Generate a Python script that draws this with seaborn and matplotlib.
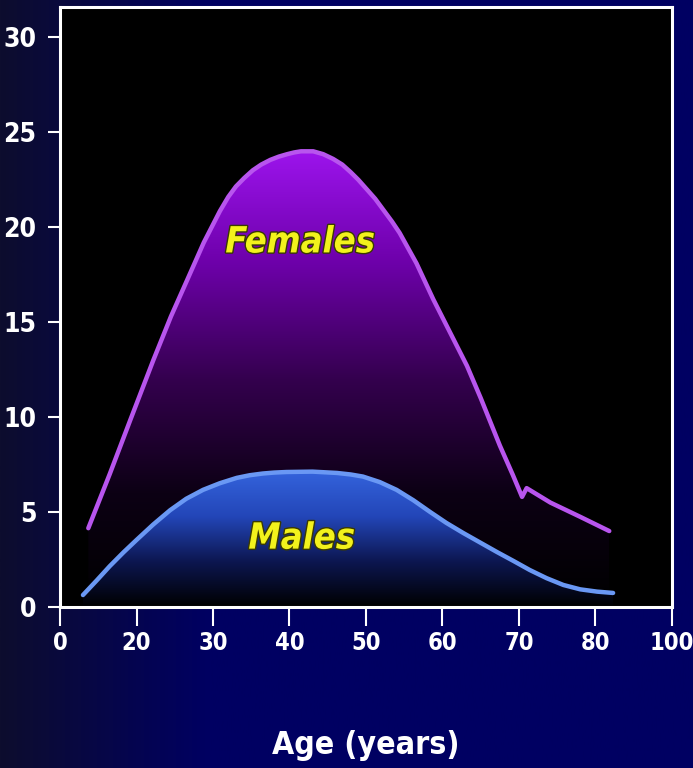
import numpy as np
import pandas as pd
import seaborn as sns
import matplotlib.pyplot as plt
import matplotlib.patheffects as pe
from matplotlib.colors import LinearSegmentedColormap

## datos
edad_mujeres = [13.7, 16.5, 19.2, 22.2, 24.5, 26.6, 28.8, 30.9, 32.0, 33.0, 34.1, 35.2, 36.3,
                37.5, 38.6, 39.7, 40.6, 41.5, 43.1, 44.4, 45.7, 46.9, 48.0, 49.0, 50.1, 51.2,
                52.3, 53.4, 54.4, 55.5, 56.6, 57.7, 58.8, 61.0, 63.2, 65.0, 66.6, 67.5, 69.2,
                70.4, 71.0, 74.1, 78.0, 81.8]
valor_mujeres = [4.15, 7.0, 9.86, 13.0, 15.3, 17.2, 19.2, 20.85, 21.6, 22.15, 22.6, 23.0, 23.3,
                 23.55, 23.72, 23.85, 23.94, 24.0, 24.0, 23.85, 23.6, 23.3, 22.9, 22.5, 22.0, 21.5,
                 20.9, 20.3, 19.7, 18.9, 18.1, 17.15, 16.2, 14.45, 12.7, 11.0, 9.4, 8.5, 6.95,
                 5.8, 6.26, 5.5, 4.75, 4.0]

edad_hombres = [13.0, 14.8, 16.5, 18.3, 20.0, 22.2, 24.4, 26.5, 28.7, 30.9, 33.1, 34.8, 36.5,
                38.0, 39.6, 43.0, 46.2, 48.0, 49.6, 51.8, 54.0, 56.2, 58.4, 60.5, 62.7, 64.9,
                67.1, 69.3, 71.4, 73.6, 75.8, 78.0, 80.2, 82.3]
valor_hombres = [0.63, 1.4, 2.15, 2.88, 3.53, 4.35, 5.1, 5.7, 6.17, 6.52, 6.8, 6.94, 7.03,
                 7.08, 7.11, 7.13, 7.06, 6.98, 6.87, 6.58, 6.17, 5.62, 5.0, 4.43, 3.9, 3.4,
                 2.9, 2.42, 1.95, 1.52, 1.16, 0.93, 0.81, 0.74]

ticks_x = [10, 20, 30, 40, 50, 60, 70, 80, 90]
etiquetas_x = ['0', '20', '30', '40', '50', '60', '70', '80', '100']
ticks_y = [0, 5, 10, 15, 20, 25, 30]

df_m = pd.DataFrame({'edad': edad_mujeres, 'valor': valor_mujeres})
df_h = pd.DataFrame({'edad': edad_hombres, 'valor': valor_hombres})

plt.rcParams['font.family'] = ['DejaVu Sans']
plt.rcParams['font.stretch'] = 'condensed'

fig = plt.figure(figsize=(6.93, 7.68), dpi=100)
fig.patch.set_facecolor('#00005e')

## fondo degradado de la figura
fondo = fig.add_axes([0, 0, 1, 1], zorder=-10)
grad = np.linspace(0, 1, 256)
grad = np.clip(grad / 0.3, 0, 1)[None, :]
cmap_fondo = LinearSegmentedColormap.from_list('fondo', ['#0d0d2e', '#000062'])
fondo.imshow(grad, aspect='auto', cmap=cmap_fondo, extent=[0, 1, 0, 1])
fondo.axis('off')

ax = fig.add_axes([60 / 693, 1 - 607 / 768, 612 / 693, 600 / 768])
ax.set_facecolor('black')


def relleno(ax, df, colores, z):
    poly = ax.fill_between(df['edad'], df['valor'], 0, color='none', lw=0)
    cmap = LinearSegmentedColormap.from_list('g', colores)
    top = df['valor'].max()
    g = np.linspace(0, 1, 256)[:, None]
    im = ax.imshow(g, aspect='auto', cmap=cmap, origin='lower',
                   extent=[df['edad'].min(), df['edad'].max(), 0, top], zorder=z)
    im.set_clip_path(poly.get_paths()[0], transform=ax.transData)


relleno(ax, df_m, ['#000000', '#0c0014', '#34004e', '#6c00a8', '#9c14ec'], 1)
relleno(ax, df_h, ['#000000', '#0c1650', '#2346b8', '#3463dc'], 2)

## lineas
sns.lineplot(data=df_m, x='edad', y='valor', ax=ax, color='#b855ee', lw=3.2, sort=False,
             zorder=4, solid_capstyle='round', solid_joinstyle='round')
sns.lineplot(data=df_h, x='edad', y='valor', ax=ax, color='#6a98f4', lw=3.2, sort=False,
             zorder=4, solid_capstyle='round', solid_joinstyle='round')

efecto = [pe.withStroke(linewidth=2, foreground='#3a3a00')]
ax.text(41.4, 19.2, 'Females', color='#f2f21c', fontsize=26, fontweight='bold',
        fontstyle='italic', ha='center', va='center', zorder=6, path_effects=efecto)
ax.text(41.6, 3.6, 'Males', color='#f2f21c', fontsize=26, fontweight='bold',
        fontstyle='italic', ha='center', va='center', zorder=6, path_effects=efecto)

ax.set_xlim(10, 90)
ax.set_ylim(0, 31.6)
ax.set_xticks(ticks_x)
ax.set_xticklabels(etiquetas_x)
ax.set_yticks(ticks_y)
ax.tick_params(axis='x', colors='white', length=14, width=1.5, pad=3, labelsize=17)
ax.tick_params(axis='y', colors='white', length=9, width=1.5, pad=8, labelsize=19)
for lab in ax.get_xticklabels() + ax.get_yticklabels():
    lab.set_fontweight('bold')
for s in ax.spines.values():
    s.set_color('white')
    s.set_linewidth(2.2)
ax.set_xlabel('Age (years)', color='white', fontsize=23, fontweight='bold', labelpad=54)
ax.set_ylabel('')

plt.savefig('out.png', dpi=100, facecolor=fig.get_facecolor())
